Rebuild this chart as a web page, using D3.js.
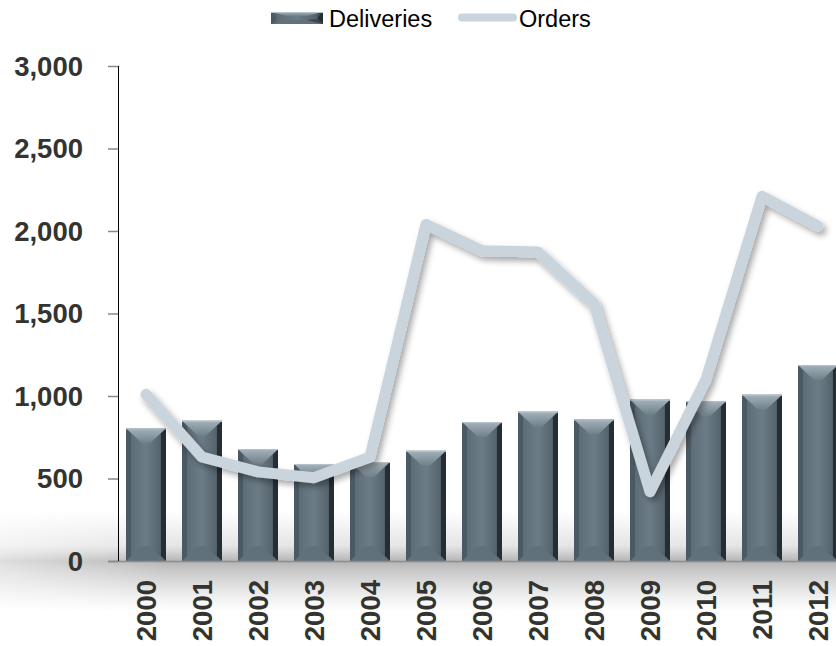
<!DOCTYPE html>
<html>
<head>
<meta charset="utf-8">
<script src="https://cdn.jsdelivr.net/npm/d3@7"></script>
<style>
  html, body { margin: 0; padding: 0; background: #fff; }
  svg { display: block; }
</style>
</head>
<body>
<svg id="chart" width="836" height="646"></svg>
<script>
// Annual deliveries (bars) and orders (line)
const years = ["2000","2001","2002","2003","2004","2005","2006","2007","2008","2009","2010","2011","2012"];
const deliveries = [804, 850, 678, 588, 600, 668, 842, 905, 858, 978, 968, 1008, 1188];
const orders = [1010, 630, 540, 505, 630, 2040, 1880, 1872, 1560, 420, 1100, 2210, 2030];
const yTicks = [0, 500, 1000, 1500, 2000, 2500, 3000];
const seriesNames = ["Deliveries", "Orders"];

const svg = d3.select("#chart");
const W = 836, H = 646;
const left = 118, baseY = 561, topY = 66;

const x = d3.scaleBand().domain(years).range([left, left + 56 * 13])
  .paddingInner(16 / 56).paddingOuter(8 / 56);
const y = d3.scaleLinear().domain([0, 3000]).range([baseY, topY]);

const defs = svg.append("defs");

// bar face gradients
const body = defs.append("linearGradient").attr("id", "barBody").attr("x1", 0).attr("x2", 1).attr("y1", 0).attr("y2", 0);
body.append("stop").attr("offset", "0%").attr("stop-color", "#46535c");
body.append("stop").attr("offset", "15%").attr("stop-color", "#5f6f79");
body.append("stop").attr("offset", "50%").attr("stop-color", "#6c7c86");
body.append("stop").attr("offset", "85%").attr("stop-color", "#55646d");
body.append("stop").attr("offset", "100%").attr("stop-color", "#2a3339");

const topFace = defs.append("linearGradient").attr("id", "barTop").attr("x1", 0).attr("x2", 0).attr("y1", 0).attr("y2", 1);
topFace.append("stop").attr("offset", "0%").attr("stop-color", "#a4b2ba");
topFace.append("stop").attr("offset", "100%").attr("stop-color", "#6f808a");

// floor shadow band
const floor = defs.append("linearGradient").attr("id", "floorShade").attr("x1", 0).attr("x2", 0).attr("y1", 0).attr("y2", 1);
floor.append("stop").attr("offset", "0%").attr("stop-color", "#b4b4b4").attr("stop-opacity", 0);
floor.append("stop").attr("offset", "35%").attr("stop-color", "#b4b4b4").attr("stop-opacity", 0.35);
floor.append("stop").attr("offset", "50%").attr("stop-color", "#a8a8a8").attr("stop-opacity", 0.85);
floor.append("stop").attr("offset", "72%").attr("stop-color", "#b8b8b8").attr("stop-opacity", 0.5);
floor.append("stop").attr("offset", "100%").attr("stop-color", "#c8c8c8").attr("stop-opacity", 0);

const fadeX = defs.append("linearGradient").attr("id", "fadeX").attr("x1", 0).attr("x2", 1).attr("y1", 0).attr("y2", 0);
fadeX.append("stop").attr("offset", "0%").attr("stop-color", "#fff").attr("stop-opacity", 0.45);
fadeX.append("stop").attr("offset", "20%").attr("stop-color", "#fff").attr("stop-opacity", 1);
fadeX.append("stop").attr("offset", "100%").attr("stop-color", "#fff").attr("stop-opacity", 1);
defs.append("mask").attr("id", "floorMask").attr("maskUnits", "userSpaceOnUse")
  .attr("x", 0).attr("y", 0).attr("width", W).attr("height", H)
  .append("rect").attr("x", 0).attr("y", 0).attr("width", W).attr("height", H).attr("fill", "url(#fadeX)");

const shadow = defs.append("filter").attr("id", "lineShadow").attr("x", "-10%").attr("y", "-10%").attr("width", "120%").attr("height", "130%");
shadow.append("feDropShadow").attr("dx", 3).attr("dy", 4).attr("stdDeviation", 3)
  .attr("flood-color", "#000").attr("flood-opacity", 0.35);

// floor shading
svg.append("rect").attr("x", 0).attr("y", baseY - 50).attr("width", W).attr("height", 100)
  .attr("fill", "url(#floorShade)").attr("mask", "url(#floorMask)");

// beveled bar drawing
function bevelBar(g, x0, y0, w, h, bv) {
  const x1 = x0 + w, y1 = y0 + h;
  const hb = Math.min(16, w / 2 - 2), vb = Math.min(bv, h / 2), s = 5;
  g.append("rect").attr("x", x0).attr("y", y0).attr("width", w).attr("height", h).attr("fill", "url(#barBody)");
  // left side
  g.append("polygon").attr("points", [[x0, y0], [x0 + s, y0 + s], [x0 + s, y1 - s], [x0, y1]].join(" "))
    .attr("fill", "#4b5962");
  // right side
  g.append("polygon").attr("points", [[x1, y0], [x1 - s, y0 + s], [x1 - s, y1 - s], [x1, y1]].join(" "))
    .attr("fill", "#262e33");
  // top face
  g.append("polygon").attr("points", [[x0, y0], [x1, y0], [x1 - hb, y0 + vb], [x0 + hb, y0 + vb]].join(" "))
    .attr("fill", "url(#barTop)");
  g.append("line").attr("x1", x0).attr("x2", x1).attr("y1", y0 + 0.5).attr("y2", y0 + 0.5)
    .attr("stroke", "#b9c4ca").attr("stroke-width", 1);
  // bottom face
  g.append("polygon").attr("points", [[x0, y1], [x1, y1], [x1 - hb, y1 - vb], [x0 + hb, y1 - vb]].join(" "))
    .attr("fill", "#61717b");
  g.append("polygon").attr("points", [[x1, y1], [x1 - hb, y1 - vb], [x1 - s, y1 - s]].join(" "))
    .attr("fill", "#3b464d");
}

const bars = svg.append("g");
years.forEach((yr, i) => {
  const g = bars.append("g");
  bevelBar(g, x(yr), y(deliveries[i]), x.bandwidth(), y(0) - y(deliveries[i]), 15);
});

// axes
const labelColor = "#333330";
svg.append("line").attr("x1", 108).attr("x2", W).attr("y1", baseY + 0.5).attr("y2", baseY + 0.5)
  .attr("stroke", "#8c8c8c").attr("stroke-width", 1.5);
svg.append("line").attr("x1", left + 0.5).attr("x2", left + 0.5).attr("y1", topY).attr("y2", baseY)
  .attr("stroke", "#000").attr("stroke-width", 1);

const yAxis = svg.append("g");
yAxis.selectAll("line.tick").data(yTicks).enter().append("line")
  .attr("x1", 108).attr("x2", left).attr("y1", d => y(d) + 0.5).attr("y2", d => y(d) + 0.5)
  .attr("stroke", "#888").attr("stroke-width", 1.5);
yAxis.selectAll("text").data(yTicks).enter().append("text")
  .attr("x", 83).attr("y", d => y(d)).attr("dy", "0.36em")
  .attr("text-anchor", "end")
  .attr("font-family", "Liberation Sans, Arial, sans-serif").attr("font-weight", "bold")
  .attr("font-size", 27.5).attr("fill", labelColor)
  .text(d => d3.format(",")(d));

svg.append("g").selectAll("text").data(years).enter().append("text")
  .attr("transform", d => `translate(${x(d) + x.bandwidth() / 2},580) rotate(-90)`)
  .attr("dy", "0.36em").attr("text-anchor", "end")
  .attr("font-family", "Liberation Sans, Arial, sans-serif").attr("font-weight", "bold")
  .attr("font-size", 27.5).attr("fill", labelColor)
  .text(d => d);

// orders line
const line = d3.line().x((d, i) => x(years[i]) + x.bandwidth() / 2).y(d => y(d));
svg.append("path").datum(orders).attr("d", line)
  .attr("fill", "none").attr("stroke", "#c9d4dd").attr("stroke-width", 11)
  .attr("stroke-linejoin", "round").attr("stroke-linecap", "round")
  .attr("filter", "url(#lineShadow)");

// legend
const leg = svg.append("g");
bevelBar(leg.append("g"), 271, 12, 52, 12, 4);
leg.append("text").attr("x", 329).attr("y", 26.5)
  .attr("font-family", "Liberation Sans, Arial, sans-serif").attr("font-size", 23.5).attr("fill", "#000")
  .text(seriesNames[0]);
leg.append("line").attr("x1", 462).attr("x2", 513).attr("y1", 17.5).attr("y2", 17.5)
  .attr("stroke", "#c9d4dd").attr("stroke-width", 8).attr("stroke-linecap", "round");
leg.append("text").attr("x", 519).attr("y", 26.5)
  .attr("font-family", "Liberation Sans, Arial, sans-serif").attr("font-size", 23.5).attr("fill", "#000")
  .text(seriesNames[1]);
</script>
</body>
</html>
